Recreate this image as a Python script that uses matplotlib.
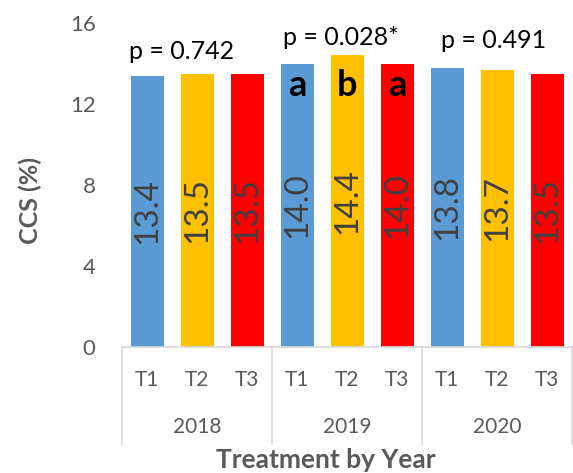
import numpy as np
import matplotlib.pyplot as plt
import matplotlib.transforms as mtransforms

plt.rcParams['font.family'] = ['Lato', 'DejaVu Sans']

years = ["2018", "2019", "2020"]
treatments = ["T1", "T2", "T3"]
ccs = [13.4, 13.5, 13.5, 14.0, 14.4, 14.0, 13.8, 13.7, 13.5]
letters = ["", "", "", "a", "b", "a", "", "", ""]
p_labels = ["p = 0.742", "p = 0.028*", "p = 0.491"]
yticks = [0, 4, 8, 12, 16]

colors = ["#5B9BD5", "#FFC000", "#FF0000"]
grey = "#595959"

fig = plt.figure(figsize=(5.73, 4.73), dpi=100)
# plot area measured in pixels of the reference
ax = fig.add_axes([122 / 573, 126 / 473, 450 / 573, 324 / 473])

x = np.arange(len(ccs))
bar_colors = [colors[i % 3] for i in range(len(ccs))]
bars = ax.bar(x, ccs, width=0.66, color=bar_colors)

ax.set_xlim(-0.5, len(ccs) - 0.5)
ax.set_ylim(0, 16)
ax.set_yticks(yticks)
ax.tick_params(axis='y', length=0, pad=19, labelsize=16, labelcolor=grey)
ax.set_xticks([])
for s in ["top", "right", "left"]:
    ax.spines[s].set_visible(False)
ax.spines["bottom"].set_color("#D9D9D9")
ax.spines["bottom"].set_linewidth(1.2)

# value labels, rotated inside bars
for xi, v in zip(x, ccs):
    ax.text(xi, v / 2, f"{v:.1f}", rotation=90, ha='center', va='center',
            fontsize=24, color="#404040")

# significance letters
for xi, lt in zip(x, letters):
    if lt:
        ax.text(xi, 12.4, lt, ha='center', va='baseline', fontsize=26,
                fontweight='bold', color='black')

# p-values above each year group
p_pos = [(0.7, 14.57), (3.88, 15.3), (6.94, 15.16)]
for (px, py), lab in zip(p_pos, p_labels):
    ax.text(px, py, lab, ha='center', va='center', fontsize=18, color='black')

# multi-level category axis
trans = mtransforms.blended_transform_factory(ax.transData, ax.transAxes)
for xi in x:
    ax.text(xi, -0.102, treatments[xi % 3], transform=trans, ha='center',
            va='center', fontsize=15, color=grey)
for g, yr in enumerate(years):
    ax.text(g * 3 + 1, -0.247, yr, transform=trans, ha='center',
            va='center', fontsize=15, color=grey)
for b in [-0.5, 2.5, 5.5, 8.5]:
    ax.plot([b, b], [0, -0.30], transform=trans, color="#D9D9D9",
            lw=1.2, clip_on=False)

fig.text(30 / 573, 1 - 200 / 473, "CCS (%)", rotation=90, ha='center',
         va='center', fontsize=18, fontweight='bold', color=grey)
fig.text(326 / 573, 1 - 460 / 473, "Treatment by Year", ha='center',
         va='center', fontsize=19, fontweight='bold', color=grey)

fig.savefig("out.png", dpi=100)
